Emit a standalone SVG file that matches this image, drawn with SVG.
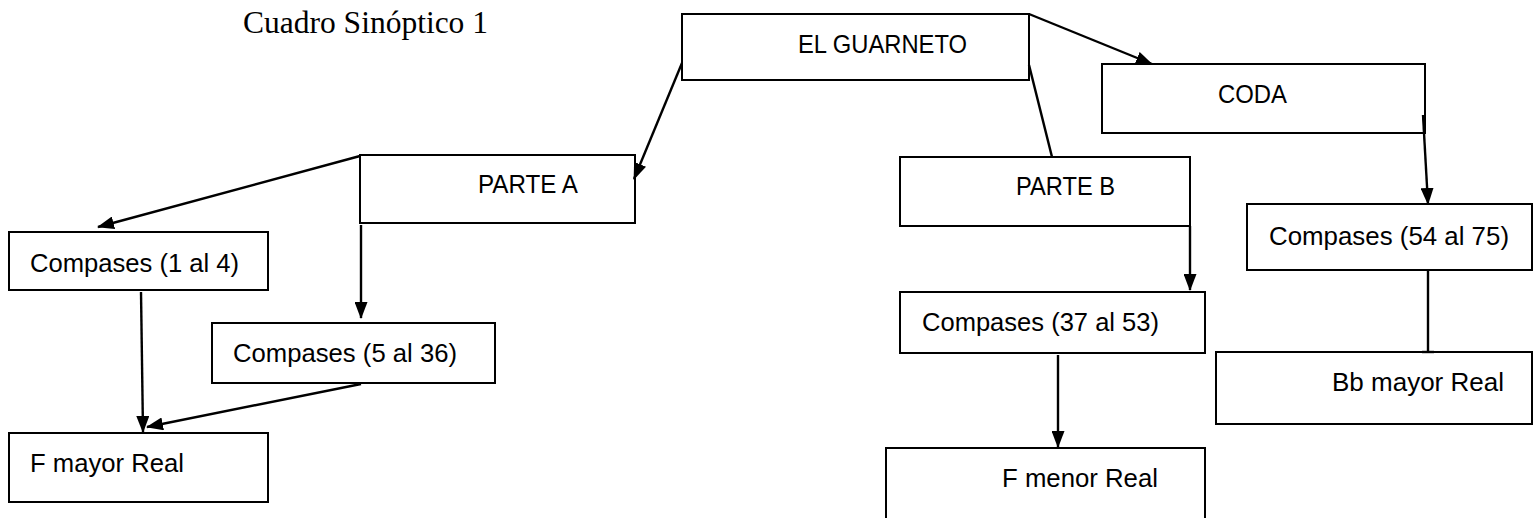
<svg xmlns="http://www.w3.org/2000/svg" width="1536" height="518" viewBox="0 0 1536 518">
<style>
.box{fill:#fff;stroke:#000;stroke-width:2}
.t{font-family:"Liberation Sans",Arial,sans-serif;font-size:25px;fill:#000}
.title{font-family:"Liberation Serif","Times New Roman",serif;font-size:31px;fill:#000}
.c{stroke:#000;stroke-width:2.4;fill:none}
.a{marker-end:url(#ah)}
</style>
<defs>
<marker id="ah" markerUnits="userSpaceOnUse" markerWidth="17" markerHeight="13" refX="16" refY="6.5" orient="auto">
<path d="M0,0 L17,6.5 L0,13 z" fill="#000"/>
</marker>
</defs>
<rect width="1536" height="518" fill="#fff"/>
<text class="title" x="243" y="33" textLength="245" lengthAdjust="spacingAndGlyphs">Cuadro Sinóptico 1</text>
<g id="n-guarneto"><rect class="box" x="682" y="14" width="347" height="66"/><text class="t" x="798" y="53" textLength="169" lengthAdjust="spacingAndGlyphs">EL GUARNETO</text></g>
<g id="n-coda"><rect class="box" x="1102" y="64" width="323" height="69"/><text class="t" x="1218" y="103" textLength="69" lengthAdjust="spacingAndGlyphs">CODA</text></g>
<g id="n-partea"><rect class="box" x="360" y="155" width="275" height="68"/><text class="t" x="478" y="193" textLength="100" lengthAdjust="spacingAndGlyphs">PARTE A</text></g>
<g id="n-parteb"><rect class="box" x="900" y="157" width="290" height="69"/><text class="t" x="1016" y="195" textLength="99" lengthAdjust="spacingAndGlyphs">PARTE B</text></g>
<g id="n-c14"><rect class="box" x="9" y="232" width="259" height="58"/><text class="t" x="30" y="272" textLength="209" lengthAdjust="spacingAndGlyphs">Compases (1 al 4)</text></g>
<g id="n-c536"><rect class="box" x="212" y="323" width="283" height="60"/><text class="t" x="233" y="362" textLength="224" lengthAdjust="spacingAndGlyphs">Compases (5 al 36)</text></g>
<g id="n-fmayor"><rect class="box" x="9" y="433" width="259" height="69"/><text class="t" x="30" y="472" textLength="154" lengthAdjust="spacingAndGlyphs">F mayor Real</text></g>
<g id="n-c3753"><rect class="box" x="900" y="292" width="305" height="61"/><text class="t" x="922" y="331" textLength="237" lengthAdjust="spacingAndGlyphs">Compases (37 al 53)</text></g>
<g id="n-fmenor"><rect class="box" x="886" y="448" width="319" height="80"/><text class="t" x="1002" y="487" textLength="156" lengthAdjust="spacingAndGlyphs">F menor Real</text></g>
<g id="n-c5475"><rect class="box" x="1247" y="204" width="285" height="66"/><text class="t" x="1269" y="245" textLength="240" lengthAdjust="spacingAndGlyphs">Compases (54 al 75)</text></g>
<g id="n-bb"><rect class="box" x="1216" y="352" width="316" height="72"/><text class="t" x="1332" y="391" textLength="172" lengthAdjust="spacingAndGlyphs">Bb mayor Real</text></g>
<g id="connectors">
<line class="c a" x1="682" y1="63" x2="634" y2="179"/>
<line class="c a" x1="1029" y1="14" x2="1152" y2="64"/>
<line class="c" x1="1029" y1="65" x2="1052" y2="157"/>
<line class="c a" x1="360" y1="156" x2="98" y2="227"/>
<line class="c a" x1="361" y1="225" x2="361" y2="318"/>
<line class="c a" x1="141" y1="292" x2="143" y2="432"/>
<line class="c a" x1="361" y1="384" x2="147" y2="427"/>
<line class="c a" x1="1423" y1="115" x2="1428" y2="204"/>
<line class="c a" x1="1190" y1="226" x2="1190" y2="290"/>
<line class="c a" x1="1058" y1="355" x2="1058" y2="447"/>
<line class="c" x1="1428" y1="270" x2="1428" y2="352"/>
<line class="c" x1="1422" y1="352" x2="1434" y2="352"/>
</g>
</svg>
